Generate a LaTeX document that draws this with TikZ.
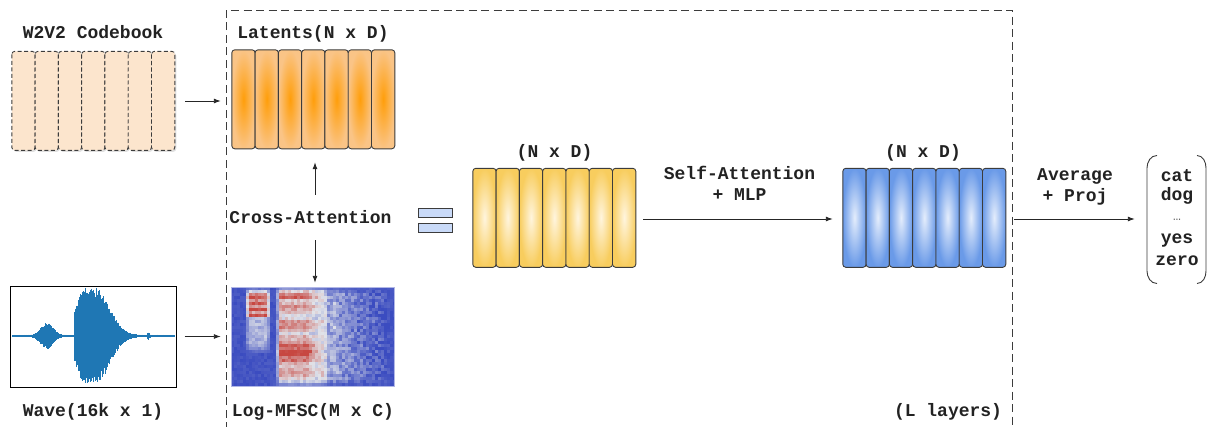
\documentclass[tikz,border=0pt]{standalone}
\usepackage{fontspec}
\setmonofont{Liberation Mono}
\usetikzlibrary{arrows.meta,shadows,calc}

\definecolor{txt}{HTML}{222222}
\definecolor{outl}{HTML}{3C3C3C}
\definecolor{peach}{HTML}{FCE5CD}
\definecolor{orgin}{HTML}{FF9E0A}
\definecolor{orgout}{HTML}{FAC486}
\definecolor{yelin}{HTML}{FFF5DE}
\definecolor{yelout}{HTML}{F8CD5E}
\definecolor{bluin}{HTML}{E4EDFC}
\definecolor{bluout}{HTML}{6A9AE8}
\definecolor{eqfill}{HTML}{C9DAF8}
\definecolor{wavec}{HTML}{1F77B4}
\definecolor{cwblue}{RGB}{59,76,192}
\definecolor{cwgray}{RGB}{224,226,232}
\definecolor{cwred}{RGB}{196,52,44}

\tikzset{
  lbl/.style={font=\ttfamily\bfseries\fontsize{18}{21}\selectfont, text=txt, inner sep=0pt, anchor=base},
  conn/.style={-{Latex[length=7pt,width=5pt]}, line width=0.9pt, draw=black!85},
  group/.style={inner sep=0pt, minimum width=163pt, minimum height=99pt},
  cbcell/.style={rounded corners=3pt, line width=0.9pt, draw=outl, dash pattern=on 4pt off 2.5pt,
    fill=peach, drop shadow={opacity=0.25, shadow xshift=1.5pt, shadow yshift=-1.5pt}},
  shcell/.style={rounded corners=3pt, line width=0.9pt, draw=outl, shade, shading=radial},
  orgcell/.style={shcell, inner color=orgin, outer color=orgout},
  yelcell/.style={shcell, inner color=yelin, outer color=yelout},
  blucell/.style={shcell, inner color=bluin, outer color=bluout},
  frame/.style={draw=outl, line width=0.9pt, dash pattern=on 8pt off 4.5pt},
  eqbar/.style={draw=outl, line width=0.9pt, fill=eqfill},
  declare function={
    g(\x,\c,\w)=exp(-min(9,((\x-\c)/\w)*((\x-\c)/\w)));
    rng(\x,\a,\b,\e)=min(1,max(0,(\x-\a)/\e+0.5))*min(1,max(0,(\b-\x)/\e+0.5));
  }
}

% seven cells side by side filling a group node
\newcommand\drawcells[2]{%
  \foreach \k in {0,...,6}{%
    \path[#2] ($(#1.north west)+(\k*23.286,0)$) rectangle ++(23.286,99);
  }}

\begin{document}
\begin{tikzpicture}[x=1pt,y=-1pt]
\useasboundingbox (0,0) rectangle (1210,426);

% outer layer frame (open at the bottom)
\draw[frame] (226,430) -- (226,10) -- (1012,10) -- (1012,430);

% groups
\node[group] (cb)  at (93.5,101) {};
\node[group] (lat) at (313.5,99.5) {};
\node[group] (yel) at (554.5,218) {};
\node[group] (blu) at (924.5,218) {};
\node[group] (spec) at (312.5,336.5) {};
\node[draw=black, line width=1pt, inner sep=0pt, minimum width=166pt, minimum height=101pt] (wave) at (93,336.5) {};
\node[inner sep=0pt, minimum width=62pt, minimum height=130pt] (cls) at (1177,220) {};

\drawcells{cb}{cbcell}
\drawcells{lat}{orgcell}
\drawcells{yel}{yelcell}
\drawcells{blu}{blucell}

% log-mel spectrogram
\pgfmathsetseed{11}
\begin{scope}
  \clip (spec.north west) rectangle (spec.south east);
  \fill[cwblue] (spec.north west) rectangle (spec.south east);
  \foreach \i in {0,...,54}{
    \foreach \j in {0,...,33}{
      \pgfmathsetmacro\u{\i*3+1.5}
      \pgfmathsetmacro\v{\j*3+1.5}
      % first syllable: narrow band, warm at the top
      \pgfmathsetmacro\Ia{rng(\u,16,38,4)*rng(\v,3,62,10)*(0.32+0.58*rng(\v,4,30,3)*(0.55+0.45*abs(sin(\v*28)))+0.08*rand)}
      % second syllable: wide harmonic block
      \pgfmathsetmacro\fd{max(0,min(1,(\u-76)/18))}
      \pgfmathsetmacro\Ib{rng(\u,47,95,4)*rng(\v,2,97,4)*(0.47+(1-\fd)*(0.36*g(\v,9,4)+0.26*g(\v,21,4)+0.30*g(\v,38,5)+0.46*g(\v,65,12)+0.26*g(\v,86,3)+0.07*sin(\v*45))-0.14*\fd+0.08*rand)}
      % high-frequency tail
      \pgfmathsetmacro\Ic{rng(\u,92,156,10)*rng(\v,4,95,8)*(0.28*(1-max(0,\u-92)/64)+0.1*g(\u,104,2.5)+0.12*rand)}
      \pgfmathsetmacro\I{max(0,min(0.95,0.03+0.03*rand+\Ia+\Ib+\Ic))}
      \pgfmathtruncatemacro\lo{\I<0.5}
      \ifnum\lo=1
        \pgfmathtruncatemacro\p{200*\I}\def\cc{cwgray!\p!cwblue}
      \else
        \pgfmathtruncatemacro\p{200*\I-100}\def\cc{cwred!\p!cwgray}
      \fi
      \fill[\cc] ($(spec.north west)+(\u-1.5,\v-1.5)$) rectangle ++(3.3,3.3);
    }
  }
\end{scope}
\draw[cwblue!40!white, line width=0.6pt] (spec.north west) rectangle (spec.south east);

% waveform
\draw[wavec!40!white, line width=1.2pt] ([xshift=2pt]wave.west) -- ([xshift=-2pt]wave.east);
\foreach \x in {12,12.6,...,175}{
  \pgfmathsetmacro\mc{\x<86 ? 86 : (\x<95 ? \x : 95)}
  \pgfmathsetmacro\w{\x<86 ? 14 : 20}
  \pgfmathsetmacro\A{1+12*g(\x,47,8.5)+(\x>=74)*47*g(\x,\mc,\w)+3*g(\x,148.5,1.2)}
  \pgfmathsetmacro\wt{336-\A*(0.8+0.22*rnd)}
  \pgfmathsetmacro\wb{336+\A*(0.8+0.22*rnd)}
  \draw[wavec, line width=0.8pt] (\x,\wt) -- (\x,\wb);
}

% equals sign
\path[eqbar] (418,208) rectangle (452,217);
\path[eqbar] (418,223) rectangle (452,232);

% labels
\node[lbl] (cbl)   at (93,38)   {W2V2 Codebook};
\node[lbl] (latl)  at (313,38)  {Latents(N x D)};
\node[lbl] (ca)    at (310.5,223) {Cross-Attention};
\node[lbl] (wavel) at (93,416)  {Wave(16k x 1)};
\node[lbl] (specl) at (313,416) {Log-MFSC(M x C)};
\node[lbl] (yell)  at (554.5,157) {(N x D)};
\node[lbl] (blul)  at (923,157) {(N x D)};
\node[lbl] (sa1)   at (739.5,179) {Self-Attention};
\node[lbl] (sa2)   at (739.5,200) {+ MLP};
\node[lbl] (av1)   at (1075,180) {Average};
\node[lbl] (av2)   at (1075,201) {+ Proj};
\node[lbl] (layers) at (948,416) {(L layers)};

% class list
\node[lbl] (w1) at (1177,181) {cat};
\node[lbl] (w2) at (1177,200) {dog};
\node[lbl, font=\ttfamily\fontsize{13}{14}\selectfont, text=black!60] (w3) at (1177,220) {…};
\node[lbl] (w4) at (1177,243) {yes};
\node[lbl] (w5) at (1177,265) {zero};
\draw[outl, line width=0.9pt] (1157,155.5) to[out=180,in=90] (1147,168) -- (1147,271) to[out=-90,in=180] (1157,283.5);
\draw[outl, line width=0.9pt] (1197,155.5) to[out=0,in=90] (1206,168) -- (1206,271) to[out=-90,in=0] (1197,283.5);

% connectors
\draw[conn] ([xshift=10pt]cb.east) -- ([xshift=-11pt]cb.east -| lat.west);
\draw[conn] ([xshift=8pt]wave.east) -- ([xshift=-10pt]wave.east -| spec.west);
\draw[conn] ($(lat.south |- ca.north)+(1.5,-15)$) -- ($(lat.south)+(1.5,13)$);
\draw[conn] ($(lat.south |- ca.south)+(1.5,17)$) -- ($(spec.north)+(2.5,-4)$);
\draw[conn] ([xshift=7pt,yshift=-1pt]yel.east) -- ([xshift=-10pt,yshift=-1pt]blu.west);
\draw[conn] ([xshift=8pt,yshift=-1pt]blu.east) -- ([xshift=-11pt,yshift=-1pt]blu.east -| cls.west);
\end{tikzpicture}
\end{document}
